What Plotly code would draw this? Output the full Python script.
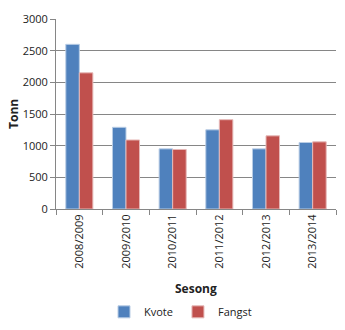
import plotly.graph_objects as go

seasons = ["2008/2009", "2009/2010", "2010/2011", "2011/2012", "2012/2013", "2013/2014"]
kvote = [2600, 1290, 950, 1250, 950, 1050]
fangst = [2150, 1090, 940, 1410, 1155, 1060]
y_ticks = [0, 500, 1000, 1500, 2000, 2500, 3000]

FONT = "Open Sans"

fig = go.Figure()
fig.add_trace(go.Bar(name="Kvote", x=seasons, y=kvote, marker=dict(color="#4F81BD", line=dict(color="#B9CDE5", width=1))))
fig.add_trace(go.Bar(name="Fangst", x=seasons, y=fangst, marker=dict(color="#C0504D", line=dict(color="#E6B9B8", width=1))))

fig.update_layout(
    width=345, height=330,
    margin=dict(l=56, r=9, t=19, b=121),
    paper_bgcolor="white", plot_bgcolor="white",
    barmode="group", bargap=0.42, bargroupgap=0,
    font=dict(family=FONT, size=11, color="#222"),
    showlegend=True,
    legend=dict(orientation="h", xref="container", x=104 / 345, xanchor="left",
                yref="container", y=0.055, yanchor="middle",
                font=dict(size=11, family=FONT), itemwidth=30, traceorder="normal"),
    xaxis=dict(type="category", tickson="boundaries", ticks="outside", ticklen=5, tickcolor="#868686",
               showline=True, linecolor="#868686", tickangle=-90, showgrid=False,
               tickfont=dict(size=11, family=FONT)),
    yaxis=dict(range=[0, 3000], tickvals=y_ticks, ticks="outside", ticklen=5, tickcolor="#868686",
               showline=True, linecolor="#868686", showgrid=True, gridcolor="#868686", gridwidth=1,
               tickfont=dict(size=11, family=FONT), zeroline=False),
    annotations=[
        dict(text="<b>Sesong</b>", xref="paper", yref="paper", x=0.5, y=(209 - 288) / 190,
             showarrow=False, font=dict(size=12, family=FONT), xanchor="center", yanchor="middle"),
        dict(text="<b>Tonn</b>", xref="paper", yref="paper", x=(13 - 56) / 280, y=0.5, textangle=-90,
             showarrow=False, font=dict(size=12, family=FONT), xanchor="center", yanchor="middle"),
    ],
)

fig.write_html("out.html")
